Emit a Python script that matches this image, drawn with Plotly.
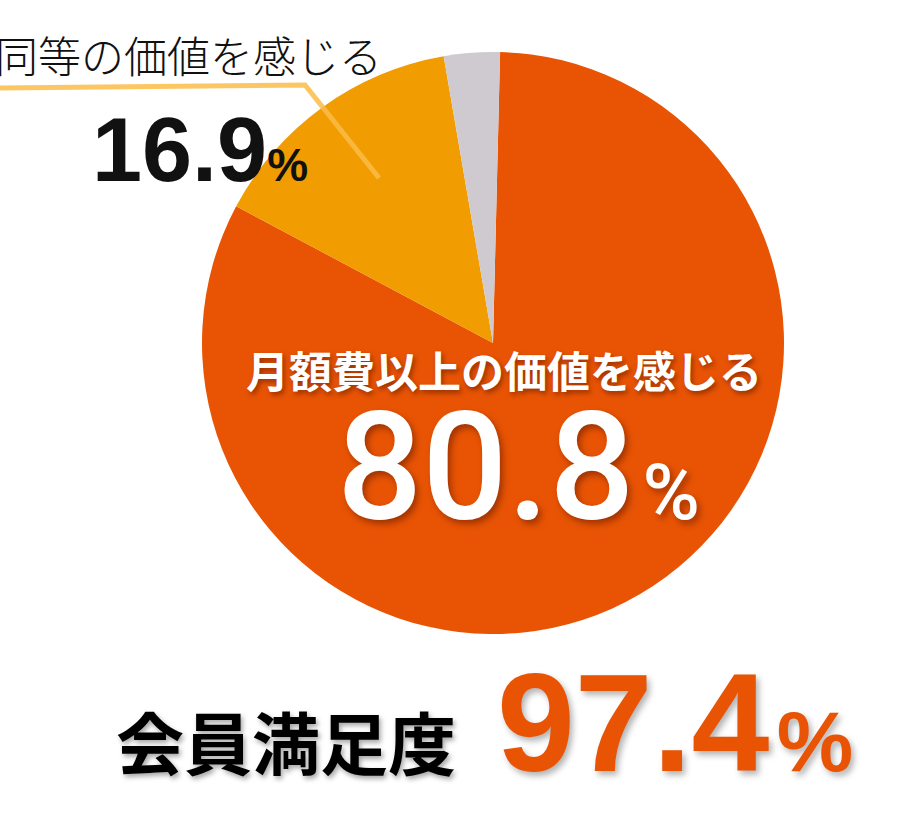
import plotly.graph_objects as go

W, H = 905, 822

# slice shares as drawn in the picture (clockwise from 12 o'clock)
slice_names = ["月額費以上の価値を感じる", "同等の価値を感じる", "その他"]
slice_values = [82.4, 14.5, 3.1]
slice_colors = ["#E85404", "#F19C00", "#CFCACF"]

# printed figures
main_label = "月額費以上の価値を感じる"
main_pct = "80.8"
second_label = "同等の価値を感じる"
second_pct = "16.9"
total_label = "会員満足度"
total_pct = "97.4"


def px(x):
    return x / W


def py(y):
    return 1 - y / H


CJK = "Noto Sans CJK JP"
NUM = "Liberation Sans, Arial, sans-serif"

fig = go.Figure()

fig.add_trace(go.Pie(
    labels=slice_names,
    values=slice_values,
    marker=dict(colors=slice_colors, line=dict(width=0)),
    sort=False,
    direction="clockwise",
    rotation=1.4,
    textinfo="none",
    hoverinfo="label+percent",
    showlegend=False,
    domain=dict(x=[px(493 - 291), px(493 + 291)], y=[py(634), py(52)]),
))

# leader line from the small label into the yellow slice
fig.add_shape(type="path",
              path=f"M {px(0)} {py(88)} L {px(305)} {py(85)} L {px(379)} {py(178)}",
              xref="paper", yref="paper",
              line=dict(color="rgba(251,188,72,0.85)", width=5))

shadow_dark = "2px 3px 5px rgba(0,0,0,0.35)"

fig.add_annotation(text=second_label, x=px(3), y=py(84), xanchor="left", yanchor="middle",
                   font=dict(family=CJK, size=43, color="#111111", weight=300))

fig.add_annotation(text=f"{second_pct}<span style='font-size:46px'>%</span>",
                   x=px(100), y=py(180), xanchor="left", yanchor="middle",
                   font=dict(family=NUM, size=90, color="#111111", weight=700))

fig.add_annotation(text=main_label, x=px(514), y=py(399), xanchor="center", yanchor="middle",
                   font=dict(family=CJK, size=43, color="white", weight=700,
                             shadow="2px 3px 5px rgba(90,20,0,0.55)"))

fig.add_annotation(text=f"{main_pct}<span style='font-size:78px'>\u200a%</span>",
                   x=px(345), y=py(498), xanchor="left", yanchor="middle",
                   font=dict(family="Roboto", size=150, color="white", weight=500,
                             shadow="3px 4px 6px rgba(90,20,0,0.5)"))

fig.add_annotation(text=total_label, x=px(296), y=py(770), xanchor="center", yanchor="middle",
                   font=dict(family=CJK, size=68, color="#000000", weight=700, shadow=shadow_dark))

fig.add_annotation(text=f"{total_pct}<span style='font-size:86px'>\u200a%</span>",
                   x=px(505), y=py(752), xanchor="left", yanchor="middle",
                   font=dict(family=NUM, size=140, color="#E85404", weight=700,
                             shadow="3px 4px 6px rgba(0,0,0,0.3)"))

fig.update_layout(width=W, height=H, margin=dict(l=0, r=0, t=0, b=0),
                  paper_bgcolor="white", plot_bgcolor="white")

fig.write_html("out.html", config={"displayModeBar": False},
               post_script="document.body.style.margin='0';")
